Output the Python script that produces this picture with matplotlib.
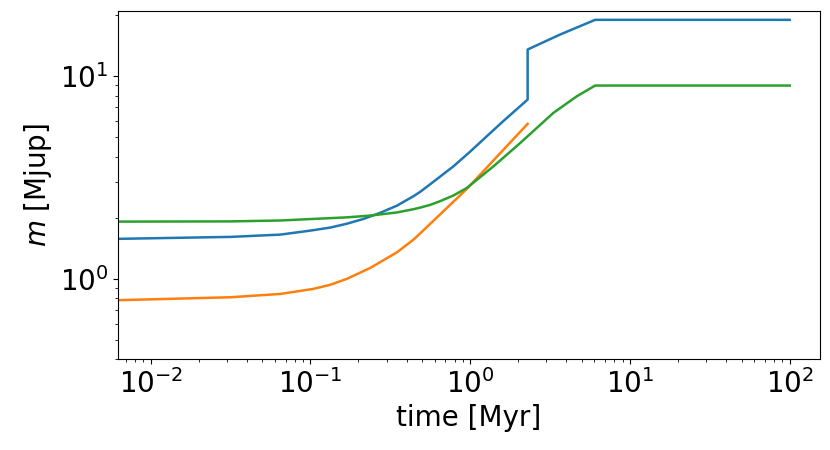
import numpy as np
import matplotlib
matplotlib.use('Agg')
import matplotlib.pyplot as plt

# values (time in Myr, mass in Mjup)
t_blue = [0.005, 0.0315, 0.0647, 0.1, 0.133, 0.169, 0.215, 0.273, 0.348, 0.442, 0.487, 0.562,
          0.786, 1.0, 1.272, 1.60, 2.29, 2.29, 3.66, 6.06, 100.0]
m_blue = [1.566, 1.606, 1.648, 1.725, 1.785, 1.865, 1.970, 2.11, 2.29, 2.55, 2.68, 2.92,
          3.58, 4.23, 5.04, 5.95, 7.64, 13.49, 16.0, 18.9, 18.9]

t_orange = [0.005, 0.0315, 0.0647, 0.1045, 0.133, 0.169, 0.237, 0.348, 0.442, 0.562,
            0.953, 2.29]
m_orange = [0.779, 0.809, 0.840, 0.890, 0.932, 0.997, 1.129, 1.348, 1.557, 1.862,
            2.77, 5.80]

t_green = [0.005, 0.0315, 0.0647, 0.169, 0.237, 0.348, 0.442, 0.487, 0.562, 0.649,
           0.786, 0.953, 1.40, 2.06, 3.32, 4.65, 6.06, 100.0]
m_green = [1.91, 1.915, 1.935, 2.005, 2.046, 2.12, 2.20, 2.24, 2.31, 2.41,
           2.57, 2.80, 3.58, 4.67, 6.57, 7.93, 8.96, 8.96]

fig = plt.figure(figsize=(8.3, 4.5), dpi=100)
ax = fig.add_axes([0.1422, 0.2016, 0.8453, 0.774])

ax.plot(t_blue, m_blue, color='C0', lw=1.8)
ax.plot(t_orange, m_orange, color='C1', lw=1.8)
ax.plot(t_green, m_green, color='C2', lw=1.8)

ax.set_xscale('log')
ax.set_yscale('log')
ax.set_xlim(0.00625, 154)
ax.set_ylim(0.40, 20.9)
ax.tick_params(labelsize=20)
ax.set_xlabel('time [Myr]', fontsize=20)
ax.set_ylabel('$m$ [Mjup]', fontsize=20)

fig.savefig('out.png', dpi=100)
